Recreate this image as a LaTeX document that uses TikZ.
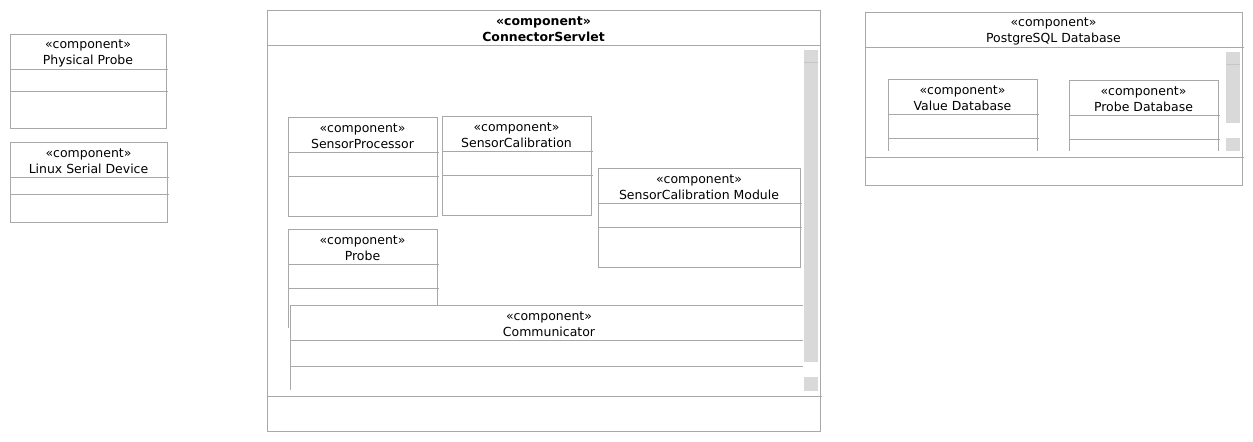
\documentclass[tikz,border=0pt]{standalone}
\usepackage{fontspec}
\setmainfont{DejaVu Sans}
\usetikzlibrary{positioning}
\definecolor{umlline}{HTML}{A8A8A8}
\definecolor{scrollbg}{HTML}{D9D9D9}
\definecolor{scrollmark}{HTML}{C6C6C6}

\begin{document}
\begin{tikzpicture}[x=0.02cm, y=-0.02cm,
            frame/.style={draw=umlline, line width=0.55pt},
            title/.style={align=center, inner sep=0pt, yshift=-1.1pt, font=\fontsize{7.1}{9.1}\selectfont},
            bar/.style={fill=scrollbg, draw=none}]

    \useasboundingbox (0,0) rectangle (1253,442);

    % left components
    \draw[frame] (10,34) rectangle (166,128);
    \draw[frame] (10,69) -- (168,69) (10,91) -- (168,91);
    \node[title] (physprobe) at (88,51.5) {«component»\\Physical Probe};

    \draw[frame] (10,142) rectangle (167,222);
    \draw[frame] (10,177) -- (169,177) (10,194) -- (169,194);
    \node[title] (serialdev) at (88.5,159.5) {«component»\\Linux Serial Device};

    % ConnectorServlet
    \draw[frame] (267,10) rectangle (820,431);
    \draw[frame] (267,45) -- (820,45) (267,396) -- (822,396);
    \node[title, font=\fontsize{7.1}{9.1}\selectfont\bfseries] (servlet) at (543.5,27.5) {«component»\\ConnectorServlet};
    \fill[bar] (804,50) rectangle (818,362);
    \fill[bar] (804,377) rectangle (818,391);
    \draw[scrollmark, line width=0.55pt] (804,62) -- (818,62);

    \draw[frame] (288,117) rectangle (437,216);
    \draw[frame] (288,152) -- (439,152) (288,176) -- (439,176);
    \node[title] (processor) at (362.5,134.5) {«component»\\SensorProcessor};

    \draw[frame] (442,116) rectangle (591,215);
    \draw[frame] (442,151) -- (593,151) (442,175) -- (593,175);
    \node[title] (calib) at (516.5,133.5) {«component»\\SensorCalibration};

    \draw[frame] (598,168) rectangle (800,267);
    \draw[frame] (598,203) -- (802,203) (598,227) -- (802,227);
    \node[title] (calibmod) at (699,185.5) {«component»\\SensorCalibration Module};

    \draw[frame] (288,328) -- (288,229) -- (437,229) -- (437,305);
    \draw[frame] (288,264) -- (439,264) (288,288) -- (439,288);
    \node[title] (probe) at (362.5,246.5) {«component»\\Probe};

    \draw[frame] (290,390) -- (290,305) -- (803,305);
    \draw[frame] (290,340) -- (803,340) (290,366) -- (803,366);
    \node[title] (comm) at (549,322.5) {«component»\\Communicator};

    % PostgreSQL
    \draw[frame] (865,12) rectangle (1242,185);
    \draw[frame] (865,47) -- (1244,47) (865,157) -- (1244,157);
    \node[title] (postgres) at (1053.5,29.5) {«component»\\PostgreSQL Database};
    \fill[bar] (1226,52) rectangle (1240,123);
    \fill[bar] (1226,138) rectangle (1240,151);
    \draw[scrollmark, line width=0.55pt] (1226,64) -- (1240,64);

    \draw[frame] (888,151) -- (888,79) -- (1037,79) -- (1037,151);
    \draw[frame] (888,114) -- (1039,114) (888,138) -- (1039,138);
    \node[title] (valuedb) at (962.5,96.5) {«component»\\Value Database};

    \draw[frame] (1069,151) -- (1069,80) -- (1218,80) -- (1218,151);
    \draw[frame] (1069,115) -- (1220,115) (1069,139) -- (1220,139);
    \node[title] (probedb) at (1143.5,97.5) {«component»\\Probe Database};
\end{tikzpicture}
\end{document}
